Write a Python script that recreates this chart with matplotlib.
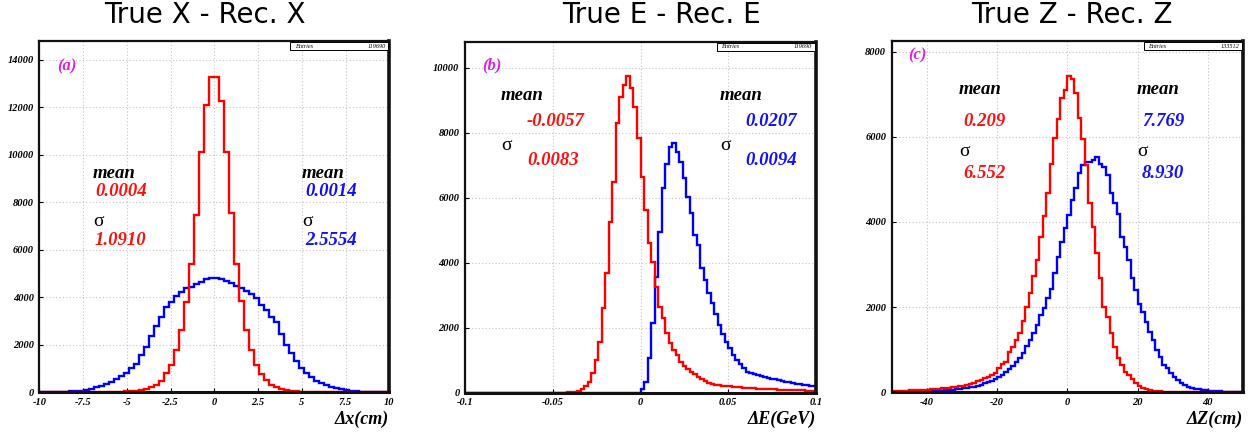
import matplotlib
matplotlib.use("Agg")
import matplotlib.pyplot as plt
import numpy as np
from matplotlib.patches import Rectangle

W, H = 1256, 436

# ---- panel (a): True X - Rec. X, 70 bins on [-10, 10]
x_red = [0, 0, 0, 0, 0, 0, 0, 0, 0, 0, 0, 0, 0,
         3, 5, 10, 15, 25, 40, 60, 90, 140, 200, 310, 450, 800, 1125, 1790, 2630,
         3800, 5400, 7470, 10140, 12100, 13300, 13300, 12280, 10100, 7550, 5400,
         3820, 2600, 1790, 1150, 760, 520, 280, 200, 140, 90, 60, 35, 20, 12, 8, 5, 3,
         0, 0, 0, 0, 0, 0, 0, 0, 0, 0, 0, 0, 0]
x_blue = [0, 0, 5, 5, 10, 15, 25, 40, 60, 90, 140, 200, 250, 340, 420, 550, 680, 790,
          1000, 1180, 1550, 1900, 2360, 2780, 3150, 3600, 3800, 4060, 4230, 4370,
          4440, 4540, 4650, 4750, 4820, 4820, 4750, 4700, 4580, 4480, 4370, 4270,
          4150, 3980, 3670, 3460, 3180, 2970, 2430, 1990, 1630, 1320, 1000, 790, 620,
          480, 370, 280, 200, 155, 110, 85, 55, 35, 20, 15, 10, 5, 5, 0]

# ---- panel (b): True E - Rec. E, 100 bins on [-0.1, 0.1]
e_red = [0] * 28 + [
    5, 10, 20, 35, 60, 100, 205, 338, 595, 1005, 1569, 2595, 3672, 5261, 6492,
    8287, 9107, 9466, 9743, 9364, 8800, 7825, 6646, 5620, 4595, 4030, 3261, 2646,
    2287, 1826, 1518, 1313, 1159, 954, 820, 718, 646, 574, 492, 430, 370, 308, 267,
    250, 235, 220, 205, 195, 185, 175, 165, 160, 150, 140, 135, 125, 120, 115, 110,
    105, 100, 95, 90, 85, 82, 78, 75, 72, 68, 65, 62, 60]
e_blue = [0] * 50 + [
    103, 338, 1056, 2133, 3569, 4954, 6287, 7036, 7569, 7692, 7415, 7108, 6595,
    6030, 5518, 4851, 4544, 3826, 3467, 3056, 2750, 2421, 2083, 1806, 1570, 1365,
    1160, 1006, 883, 750, 646, 600, 580, 550, 520, 490, 460, 435, 410, 385, 360,
    340, 320, 300, 280, 262, 245, 228, 212, 195]

# ---- panel (c): True Z - Rec. Z, 100 bins on [-50, 50]
z_red = [30, 32, 35, 38, 40, 45, 48, 52, 56, 60,
         65, 70, 76, 82, 90, 98, 106, 115, 125, 140,
         155, 175, 200, 228, 260, 292, 335, 370, 410, 460,
         563, 665, 720, 955, 1056, 1229, 1385, 1675, 2011, 2340,
         2730, 3107, 3654, 4140, 4690, 5370, 5980, 6420, 6920, 7100,
         7425, 7360, 7040, 6450, 5960, 5330, 4437, 3888, 3263, 2676,
         2011, 1776, 1385, 1072, 798, 642, 485, 407, 305, 211,
         149, 94, 70, 50, 38, 28, 20, 15, 12, 10,
         8, 6, 5, 5, 4, 4, 3, 3, 3, 2,
         2, 2, 2, 1, 1, 1, 1, 0, 0, 0]
z_blue = [8, 9, 10, 11, 12, 14, 16, 18, 20, 23,
          26, 29, 33, 37, 42, 48, 55, 62, 70, 80,
          90, 103, 118, 135, 155, 180, 210, 240, 275, 315,
          360, 400, 470, 540, 620, 720, 810, 920, 1080, 1230,
          1385, 1581, 1815, 1972, 2207, 2418, 2794, 3185, 3537, 3850,
          4163, 4515, 4789, 5141, 5337, 5415, 5415, 5454, 5532, 5360,
          5298, 5102, 4672, 4452, 4186, 3654, 3420, 3107, 2676, 2402,
          2070, 1894, 1659, 1424, 1229, 994, 837, 642, 563, 446,
          368, 290, 227, 172, 133, 110, 86, 70, 55, 47,
          39, 32, 27, 22, 18, 15, 12, 10, 8, 6]

titles = ["True X - Rec. X", "True E - Rec. E", "True Z - Rec. Z"]
xlabels = ["\u0394x(cm)", "\u0394E(GeV)", "\u0394Z(cm)"]
tags = ["(a)", "(b)", "(c)"]
entries = ["119690", "119690", "133512"]
stats_red = [("0.0004", "1.0910"), ("-0.0057", "0.0083"), ("0.209", "6.552")]
stats_blue = [("0.0014", "2.5554"), ("0.0207", "0.0094"), ("7.769", "8.930")]

xranges = [(-10, 10), (-0.1, 0.1), (-50, 50)]
ymaxes = [14800, 10800, 8250]
xticks = [[-10, -7.5, -5, -2.5, 0, 2.5, 5, 7.5, 10],
          [-0.1, -0.05, 0, 0.05, 0.1],
          [-40, -20, 0, 20, 40]]
xticklabels = [["-10", "-7.5", "-5", "-2.5", "0", "2.5", "5", "7.5", "10"],
               ["-0.1", "-0.05", "0", "0.05", "0.1"],
               ["-40", "-20", "0", "20", "40"]]
yticks = [list(range(0, 14001, 2000)), list(range(0, 10001, 2000)),
          list(range(0, 8001, 2000))]
series = [(x_red, x_blue), (e_red, e_blue), (z_red, z_blue)]

# layout in pixels: left, top, right, bottom of each frame
frames = [(39.3, 41, 389.3, 392), (465, 41.7, 816, 392.7), (891.7, 41, 1243, 392.3)]
title_x = [205, 661, 1072]
tag_pos = [(57, 66), (482, 65), (908, 55)]
# text positions (x_left, x_right, y_mean, y_val1, y_sigma, y_val2)
stat_pos = [(93, 302, 174, 191, 222, 240),
            (501, 720, 96, 122, 145, 160),
            (959, 1137, 90, 122, 152, 174)]
val_dx = [(2, 3), (26, 25), (4, 5)]

SERIF = "Liberation Serif"
fig = plt.figure(figsize=(W / 100, H / 100), dpi=100)


def fx(px):
    return px / W


def fy(py):
    return 1 - py / H


for i in range(3):
    l, t, r, b = frames[i]
    ax = fig.add_axes([fx(l), fy(b), (r - l) / W, (b - t) / H])
    red, blue = series[i]
    lo, hi = xranges[i]
    edges = np.linspace(lo, hi, len(red) + 1)
    ax.stairs(blue, edges, color="#0000ff", lw=1.7, baseline=0)
    ax.stairs(red, edges, color="#ff0000", lw=1.7, baseline=0)
    ax.set_xlim(lo, hi)
    ax.set_ylim(0, ymaxes[i])
    ax.set_xticks(xticks[i])
    ax.set_xticklabels(xticklabels[i])
    ax.set_yticks(yticks[i])
    ax.set_yticklabels([str(v) for v in yticks[i]])
    ax.tick_params(direction="in", length=3, width=0.8, pad=4)
    for lab in ax.get_xticklabels() + ax.get_yticklabels():
        lab.set_fontfamily(SERIF)
        lab.set_fontweight("bold")
        lab.set_fontstyle("italic")
        lab.set_fontsize(7.5)
    ax.grid(True, color="#c4c4c4", linestyle=(0, (1, 2)), lw=0.8)
    ax.set_axisbelow(True)
    for side, lw in [("left", 1.6), ("top", 1.6), ("right", 2.6), ("bottom", 2.2)]:
        ax.spines[side].set_linewidth(lw)
        ax.spines[side].set_color("#111111")

    # entries box
    ax.add_patch(Rectangle((0.717, 0.973), 0.279, 0.024, transform=ax.transAxes,
                           facecolor="white", edgecolor="black", lw=0.7, zorder=5))
    ax.text(0.73, 0.985, "Entries", transform=ax.transAxes, fontsize=4.5,
            family=SERIF, style="italic", va="center", ha="left", zorder=6)
    ax.text(0.99, 0.985, entries[i], transform=ax.transAxes, fontsize=4.5,
            family=SERIF, style="italic", va="center", ha="right", zorder=6)

    fig.text(fx(title_x[i]), fy(15), titles[i], ha="center", va="center",
             fontsize=20, family="DejaVu Sans")
    fig.text(fx(r), fy(419), xlabels[i], ha="right", va="center", fontsize=13,
             family=SERIF, weight="bold", style="italic")
    fig.text(fx(tag_pos[i][0]), fy(tag_pos[i][1]), tags[i], ha="left", va="center",
             fontsize=12, family=SERIF, weight="bold", style="italic", color="#e020e0")

    xl, xr, ym, yv1, ys, yv2 = stat_pos[i]
    dl, dr = val_dx[i]
    for x0, d, (v1, v2), col in [(xl, dl, stats_red[i], "#ff1010"),
                                  (xr, dr, stats_blue[i], "#1010ff")]:
        fig.text(fx(x0), fy(ym), "mean", ha="left", va="center", fontsize=13.5,
                 family=SERIF, weight="bold", style="italic", color="black")
        fig.text(fx(x0 + d), fy(yv1), v1, ha="left", va="center", fontsize=13.5,
                 family=SERIF, weight="bold", style="italic", color=col)
        fig.text(fx(x0), fy(ys), "\u03c3", ha="left", va="center", fontsize=14,
                 family=SERIF, color="black")
        fig.text(fx(x0 + d), fy(yv2), v2, ha="left", va="center", fontsize=13.5,
                 family=SERIF, weight="bold", style="italic", color=col)

fig.savefig("out.png", dpi=100)
